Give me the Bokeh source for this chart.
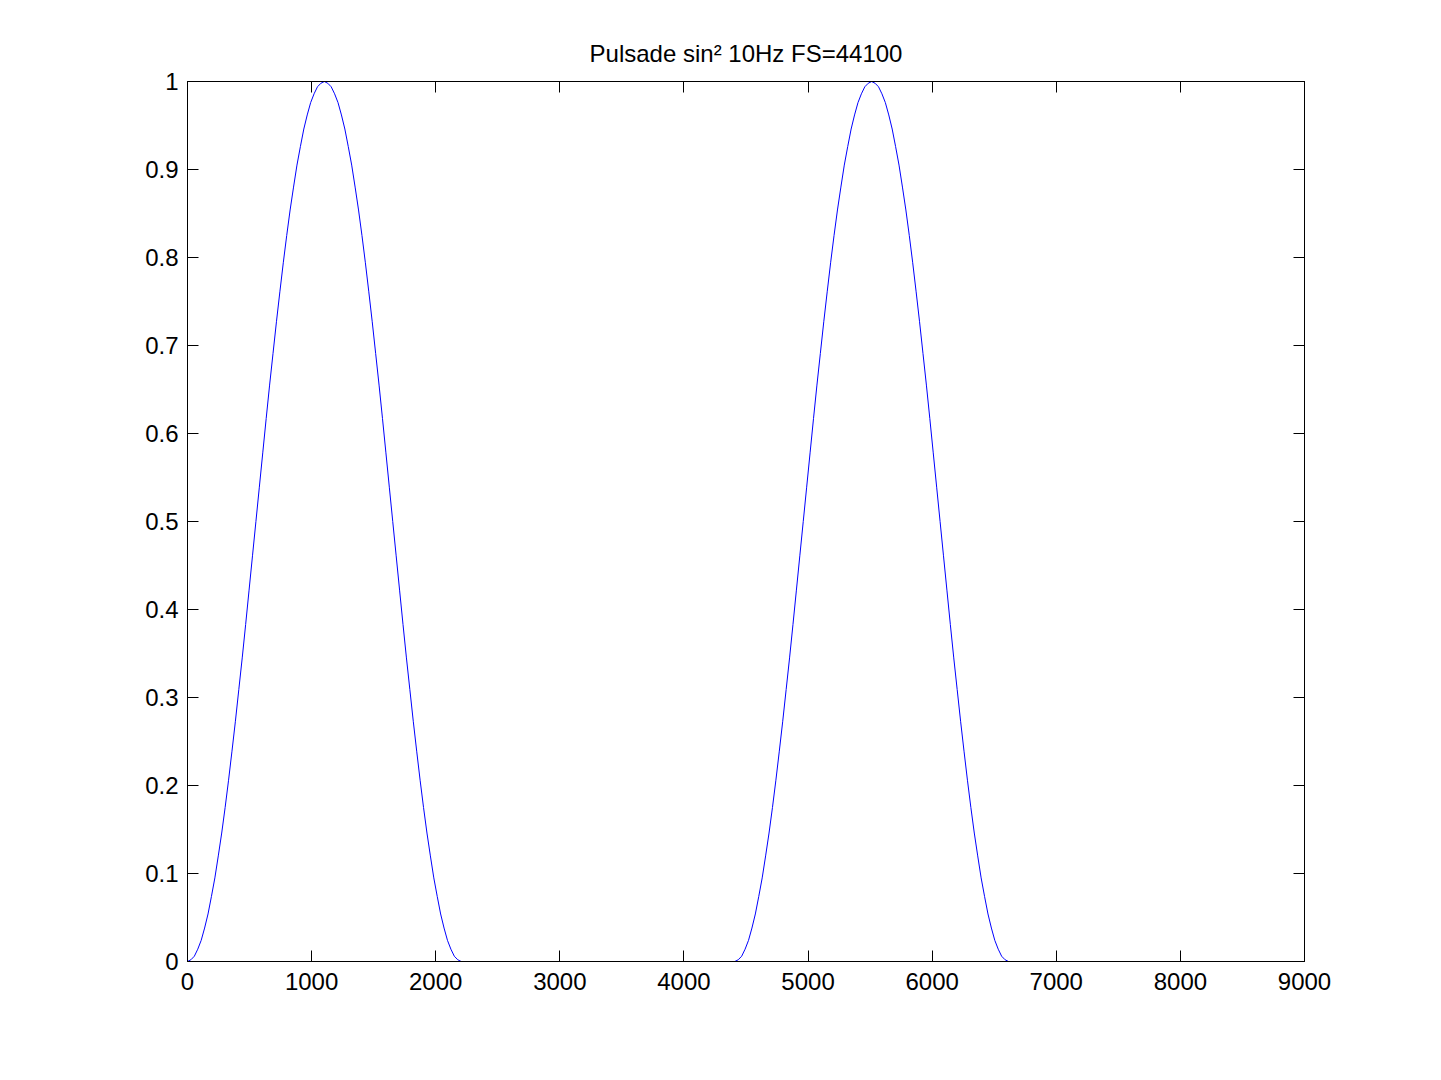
from bokeh.plotting import figure
from bokeh.models import LinearAxis, FixedTicker, Range1d
from bokeh.embed import file_html
from bokeh.resources import INLINE

# ---- data ----
# shape of one sin^2 pulse, sampled at 81 evenly spaced points across the pulse
pulse_shape = [0, 0.002, 0.006, 0.014, 0.024, 0.038, 0.054, 0.074, 0.095, 0.120,
               0.146, 0.175, 0.206, 0.239, 0.273, 0.309, 0.345, 0.383, 0.422, 0.461,
               0.5, 0.539, 0.578, 0.617, 0.655, 0.691, 0.727, 0.761, 0.794, 0.825,
               0.854, 0.880, 0.905, 0.926, 0.946, 0.962, 0.976, 0.986, 0.994, 0.998,
               1.0,
               0.998, 0.994, 0.986, 0.976, 0.962, 0.946, 0.926, 0.905, 0.880, 0.854,
               0.825, 0.794, 0.761, 0.727, 0.691, 0.655, 0.617, 0.578, 0.539, 0.5,
               0.461, 0.422, 0.383, 0.345, 0.309, 0.273, 0.239, 0.206, 0.175, 0.146,
               0.120, 0.095, 0.074, 0.054, 0.038, 0.024, 0.014, 0.006, 0.002, 0]
pulse_starts = [0, 4410]      # sample index where each pulse begins
pulse_length = 2205           # samples per pulse
signal_end = 8820             # last sample index

x_ticks = [0, 1000, 2000, 3000, 4000, 5000, 6000, 7000, 8000, 9000]
x_tick_labels = ["0", "1000", "2000", "3000", "4000", "5000", "6000", "7000", "8000", "9000"]
y_ticks = [0, 0.1, 0.2, 0.3, 0.4, 0.5, 0.6, 0.7, 0.8, 0.9, 1]
y_tick_labels = ["0", "0.1", "0.2", "0.3", "0.4", "0.5", "0.6", "0.7", "0.8", "0.9", "1"]
title_text = "Pulsade sin\u00b2 10Hz FS=44100"

# build the sample table from the arrays above
n = len(pulse_shape) - 1
xs, ys = [], []
for s in pulse_starts:
    for k, v in enumerate(pulse_shape):
        xs.append(s + pulse_length * k / n)
        ys.append(v)
xs.append(signal_end)
ys.append(0)

FONT = "Liberation Sans"
FS = "24px"

p = figure(frame_width=1117, frame_height=880,
           x_range=Range1d(0, 9000), y_range=Range1d(0, 1),
           output_backend="svg", toolbar_location=None,
           min_border_left=187, min_border_right=110, min_border_top=81, min_border_bottom=90,
           x_axis_location=None, y_axis_location=None)

p.background_fill_color = "white"
p.border_fill_color = "white"
p.outline_line_color = "black"
p.outline_line_width = 1
p.xgrid.visible = False
p.ygrid.visible = False

p.line(xs, ys, line_color="#0000ff", line_width=1)


def style(ax, ticks, labels, show_labels, standoff=8):
    ax.ticker = FixedTicker(ticks=ticks)
    ax.minor_tick_line_color = None
    ax.major_tick_in = 11
    ax.major_tick_out = 0
    ax.major_tick_line_color = "black"
    ax.axis_line_color = "black"
    ax.major_label_text_font = FONT
    ax.major_label_text_color = "black"
    ax.major_label_text_font_size = FS
    if show_labels:
        ax.major_label_overrides = {t: l for t, l in zip(ticks, labels)}
        ax.major_label_standoff = standoff
    else:
        ax.major_label_overrides = {t: "" for t in ticks}
        ax.major_label_standoff = 0


xb = LinearAxis()
style(xb, x_ticks, x_tick_labels, True, standoff=11)
p.add_layout(xb, "below")
yl = LinearAxis()
style(yl, y_ticks, y_tick_labels, True, standoff=9)
p.add_layout(yl, "left")
xt = LinearAxis()
style(xt, x_ticks, x_tick_labels, False)
p.add_layout(xt, "above")
yr = LinearAxis()
style(yr, y_ticks, y_tick_labels, False)
p.add_layout(yr, "right")

p.title.text = title_text
p.title.align = "center"
p.title.text_font = FONT
p.title.text_font_style = "normal"
p.title.text_font_size = FS
p.title.text_color = "black"
p.title.standoff = 30

open("out.html", "w").write(file_html(p, INLINE))
